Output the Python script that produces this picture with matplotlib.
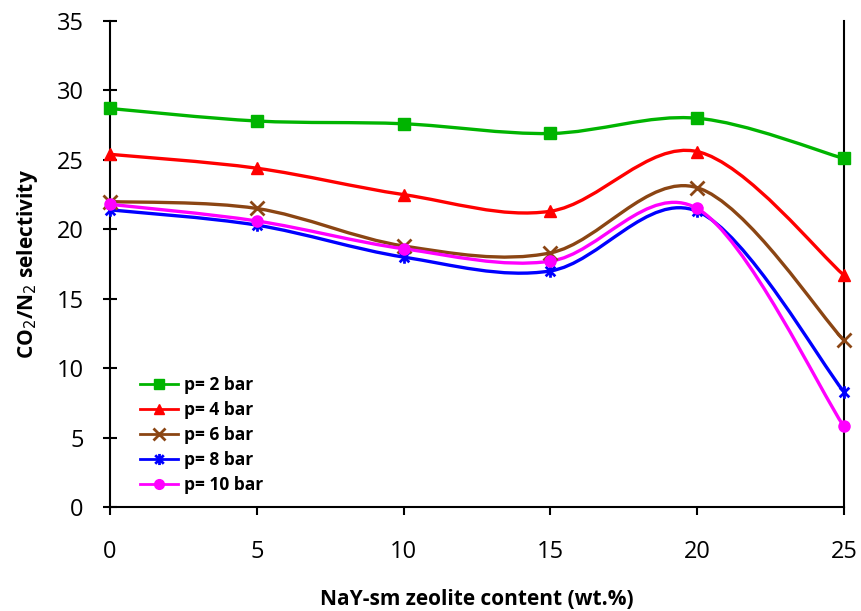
import matplotlib
matplotlib.use("Agg")
import matplotlib.pyplot as plt
import numpy as np
from matplotlib.path import Path
from matplotlib.patches import PathPatch
from matplotlib.lines import Line2D

plt.rcParams['font.family'] = ['Open Sans', 'DejaVu Sans']

x = [0, 5, 10, 15, 20, 25]
p2 = [28.7, 27.8, 27.6, 26.9, 28.0, 25.1]
p4 = [25.4, 24.4, 22.5, 21.3, 25.6, 16.7]
p6 = [22.0, 21.5, 18.8, 18.3, 23.0, 12.0]
p8 = [21.4, 20.3, 18.0, 17.0, 21.3, 8.3]
p10 = [21.8, 20.6, 18.6, 17.7, 21.5, 5.8]
labels = ['p= 2 bar', 'p= 4 bar', 'p= 6 bar', 'p= 8 bar', 'p= 10 bar']
xticks = [0, 5, 10, 15, 20, 25]
yticks = [0, 5, 10, 15, 20, 25, 30, 35]

colors = ['#00b400', '#ff0000', '#8b4513', '#0000ff', '#ff00ff']

# custom asterisk marker (x + vertical bar)
star_verts = [(-1, -1), (1, 1), (-1, 1), (1, -1), (0, -1.3), (0, 1.3)]
star_codes = [Path.MOVETO, Path.LINETO, Path.MOVETO, Path.LINETO, Path.MOVETO, Path.LINETO]
star_marker = Path(star_verts, star_codes)

markers = ['s', '^', 'x', star_marker, 'o']
msizes = [8, 8, 10, 9, 8]

fig = plt.figure(figsize=(8.62, 6.11), dpi=100)
ax = fig.add_axes([0.1276, 0.1702, 0.979 - 0.1276, 0.9656 - 0.1702])


def smooth_path(xs, ys):
    xs = np.asarray(xs, float)
    ys = np.asarray(ys, float)
    pts = np.column_stack([xs, ys])
    n = len(pts)
    verts = [tuple(pts[0])]
    codes = [Path.MOVETO]
    for i in range(n - 1):
        p0 = pts[i - 1] if i > 0 else pts[i]
        p1 = pts[i]
        p2_ = pts[i + 1]
        p3 = pts[i + 2] if i + 2 < n else pts[i + 1]
        c1 = p1 + (p2_ - p0) / 6.0
        c2 = p2_ - (p3 - p1) / 6.0
        verts += [tuple(c1), tuple(c2), tuple(p2_)]
        codes += [Path.CURVE4, Path.CURVE4, Path.CURVE4]
    return Path(verts, codes)


series = [p2, p4, p6, p8, p10]
handles = []
for ys, c, m, ms, lab in zip(series, colors, markers, msizes, labels):
    patch = PathPatch(smooth_path(x, ys), facecolor='none', edgecolor=c, lw=2.4,
                      clip_on=False, zorder=2)
    ax.add_patch(patch)
    mew = 2.0 if m in ('x',) or m is star_marker else 1
    ax.plot(x, ys, linestyle='none', marker=m, color=c, ms=ms, mew=mew,
            clip_on=False, zorder=3)
    handles.append(Line2D([], [], color=c, lw=2, marker=m, ms=ms - 1, mew=mew))

ax.set_xlim(0, 25)
ax.set_ylim(0, 35)
ax.set_xticks(xticks)
ax.set_yticks(yticks)
ax.tick_params(axis='both', labelsize=17, width=1.5, length=6, direction='out')
ax.tick_params(axis='x', pad=18)
ax.tick_params(axis='y', direction='inout', length=10, pad=14)
ax.spines['top'].set_visible(False)
for s in ['left', 'bottom', 'right']:
    ax.spines[s].set_linewidth(1.5)
    ax.spines[s].set_color('black')

ax.set_xlabel('NaY-sm zeolite content (wt.%)', fontsize=15, fontweight='bold', labelpad=18)
ax.set_ylabel('CO$_2$/N$_2$ selectivity', fontsize=15, fontweight='bold', labelpad=12)

leg = ax.legend(handles, labels, loc='lower left', bbox_to_anchor=(0.02, -0.005),
                frameon=False, prop={'weight': 'bold', 'size': 12.5},
                handlelength=2.2, handletextpad=0.3, labelspacing=0.4)

fig.savefig('out.png', dpi=100)
